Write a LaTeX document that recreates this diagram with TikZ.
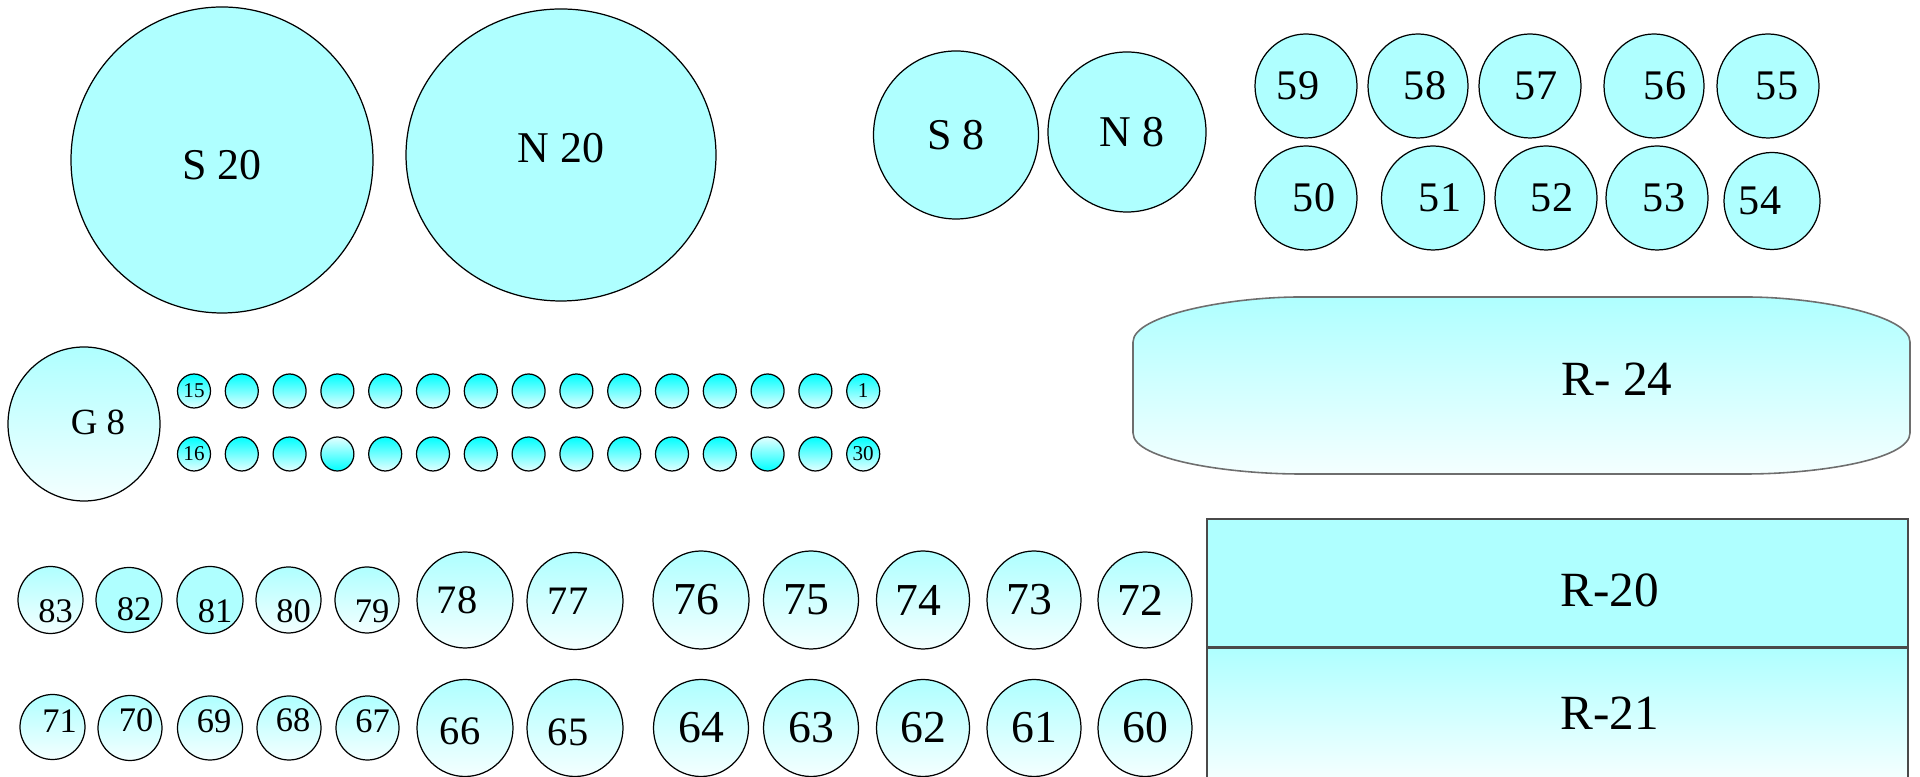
\documentclass[tikz,border=0pt]{standalone}
\usepackage{fontspec}
\setmainfont{Liberation Serif}
\usetikzlibrary{shapes.geometric}
\definecolor{RCyan}{HTML}{AFFFFF}
\definecolor{RAqua}{HTML}{00FFFF}
\definecolor{RFoam}{HTML}{F4FFFF}
\definecolor{RMist}{HTML}{E4FFFF}
\definecolor{REdge}{HTML}{6E6E6E}
\definecolor{RDark}{HTML}{4A4A4A}

\begin{document}
\begin{tikzpicture}[x=1cm,y=1cm,
  bub/.style={ellipse,draw=black,line width=.35pt,inner sep=0pt},
  flat/.style={bub,fill=RCyan},
  pale/.style={bub,top color=RCyan,bottom color=RFoam},
  bead/.style={bub,top color=RAqua,bottom color=RMist,minimum width=.33cm,minimum height=.34cm},
  beadup/.style={bead,top color=RMist,bottom color=RAqua},
  sz/.style 2 args={minimum width=#1cm,minimum height=#2cm},
  fbig/.style={font=\fontsize{12.5}{14}\selectfont},
  fmid/.style={font=\fontsize{12}{14}\selectfont},
  flrg/.style={font=\fontsize{13}{15}\selectfont},
  fmed/.style={font=\fontsize{11.5}{13}\selectfont},
  fsml/.style={font=\fontsize{9.8}{11}\selectfont},
  fbead/.style={font=\fontsize{6}{7}\selectfont},
  fR/.style={font=\fontsize{14}{16}\selectfont}]
\path[use as bounding box] (0,0) rectangle (19.20,7.77);
% top row
\node[flat,sz={3.02}{3.06},label={[fbig,yshift=-.05cm]center:S 20}] (s20) at (2.22,6.17) {};
\node[flat,sz={3.10}{2.92},label={[fbig,yshift=.07cm]center:N 20}] (n20) at (5.61,6.22) {};
\node[flat,sz={1.65}{1.68},label={[fbig]center:S 8}] (s8) at (9.56,6.42) {};
\node[flat,sz={1.58}{1.60},label={[fbig,xshift=.05cm]center:N 8}] (n8) at (11.27,6.45) {};
\node[flat,sz={1.02}{1.04},label={[fmid,xshift=-.08cm]center:59}] (c59) at (13.06,6.91) {};
\node[flat,sz={1.00}{1.04},label={[fmid,xshift=.07cm]center:58}] (c58) at (14.18,6.91) {};
\node[flat,sz={1.02}{1.04},label={[fmid,xshift=.06cm]center:57}] (c57) at (15.30,6.91) {};
\node[flat,sz={1.00}{1.04},label={[fmid,xshift=.11cm]center:56}] (c56) at (16.54,6.91) {};
\node[flat,sz={1.02}{1.04},label={[fmid,xshift=.09cm]center:55}] (c55) at (17.68,6.91) {};
\node[flat,sz={1.02}{1.04},label={[fmid,xshift=.08cm]center:50}] (c50) at (13.06,5.79) {};
\node[flat,sz={1.03}{1.04},label={[fmid,xshift=.07cm]center:51}] (c51) at (14.33,5.79) {};
\node[flat,sz={1.02}{1.04},label={[fmid,xshift=.06cm]center:52}] (c52) at (15.46,5.79) {};
\node[flat,sz={1.02}{1.04},label={[fmid,xshift=.07cm]center:53}] (c53) at (16.57,5.79) {};
\node[flat,sz={0.96}{0.97},label={[fmid,xshift=-.12cm]center:54}] (c54) at (17.72,5.76) {};
% middle band
\node[pale,sz={1.52}{1.54},label={[font=\fontsize{10.5}{12}\selectfont,xshift=.14cm,yshift=.02cm]center:G 8}] (g8) at (0.84,3.53) {};
\node[bead,fbead] (b15) at (1.94,3.86) {15};
\node[bead,fbead] (b1) at (8.632,3.86) {1};
\node[bead,fbead] (b16) at (1.94,3.23) {16};
\node[bead,fbead] (b30) at (8.632,3.23) {30};
\foreach \i in {1,...,13}
  \node[bead] (u\i) at (1.94+.478*\i,3.86) {};
\foreach \i in {1,2,4,5,6,7,8,9,10,11,13}
  \node[bead] (d\i) at (1.94+.478*\i,3.23) {};
\foreach \i in {3,12}
  \node[beadup] (d\i) at (1.94+.478*\i,3.23) {};
\path[draw=REdge,line width=.45pt,top color=RCyan,bottom color=RFoam]
  (11.33,3.44) -- (11.33,4.35) .. controls (11.33,4.62) and (12.30,4.80) .. (13.00,4.80)
  -- (17.46,4.80) .. controls (18.16,4.80) and (19.10,4.62) .. (19.10,4.35)
  -- (19.10,3.44) .. controls (19.10,3.17) and (18.16,3.03) .. (17.46,3.03)
  -- (13.00,3.03) .. controls (12.30,3.03) and (11.33,3.17) .. (11.33,3.44) -- cycle;
\node[fR] (r24) at (16.17,3.98) {R- 24};
% bottom rows
\node[pale,sz={.65}{.67},label={[fsml,xshift=.05cm,yshift=-.11cm]center:83}] (c83) at (0.505,1.77) {};
\node[flat,sz={.66}{.65},label={[fsml,xshift=.05cm,yshift=-.09cm]center:82}] (c82) at (1.29,1.77) {};
\node[flat,sz={.66}{.67},label={[fsml,xshift=.05cm,yshift=-.11cm]center:81}] (c81) at (2.10,1.77) {};
\node[pale,sz={.65}{.66},label={[fsml,xshift=.05cm,yshift=-.11cm]center:80}] (c80) at (2.885,1.77) {};
\node[pale,sz={.64}{.66},label={[fsml,xshift=.05cm,yshift=-.11cm]center:79}] (c79) at (3.67,1.77) {};
\node[pale,sz={.96}{.96},label={[fmed,xshift=-.08cm]center:78}] (c78) at (4.65,1.77) {};
\node[pale,sz={.96}{.97},label={[fmed,xshift=-.07cm]center:77}] (c77) at (5.75,1.76) {};
\node[pale,sz={.96}{.98},label={[flrg,xshift=-.05cm]center:76}] (c76) at (7.01,1.77) {};
\node[pale,sz={.95}{.98},label={[flrg,xshift=-.05cm]center:75}] (c75) at (8.11,1.77) {};
\node[pale,sz={.93}{.98},label={[flrg,xshift=-.05cm]center:74}] (c74) at (9.23,1.77) {};
\node[pale,sz={.94}{.98},label={[flrg,xshift=-.05cm]center:73}] (c73) at (10.34,1.77) {};
\node[pale,sz={.94}{.96},label={[flrg,xshift=-.05cm]center:72}] (c72) at (11.45,1.77) {};
\node[pale,sz={.65}{.65},label={[fsml,xshift=.07cm,yshift=.06cm]center:71}] (c71) at (0.525,0.50) {};
\node[pale,sz={.64}{.65},label={[fsml,xshift=.06cm,yshift=.08cm]center:70}] (c70) at (1.30,0.49) {};
\node[pale,sz={.65}{.64},label={[fsml,xshift=.04cm,yshift=.07cm]center:69}] (c69) at (2.10,0.49) {};
\node[pale,sz={.64}{.64},label={[fsml,xshift=.04cm,yshift=.08cm]center:68}] (c68) at (2.89,0.49) {};
\node[pale,sz={.63}{.64},label={[fsml,xshift=.05cm,yshift=.07cm]center:67}] (c67) at (3.675,0.49) {};
\node[pale,sz={.96}{.97},label={[fmed,xshift=-.05cm,yshift=-.03cm]center:66}] (c66) at (4.65,0.49) {};
\node[pale,sz={.96}{.97},label={[fmed,xshift=-.07cm,yshift=-.04cm]center:65}] (c65) at (5.75,0.49) {};
\node[pale,sz={.95}{.97},label={[flrg]center:64}] (c64) at (7.01,0.49) {};
\node[pale,sz={.95}{.97},label={[flrg]center:63}] (c63) at (8.11,0.49) {};
\node[pale,sz={.93}{.97},label={[flrg]center:62}] (c62) at (9.23,0.49) {};
\node[pale,sz={.94}{.97},label={[flrg]center:61}] (c61) at (10.34,0.49) {};
\node[pale,sz={.94}{.97},label={[flrg]center:60}] (c60) at (11.45,0.49) {};
\node[draw=RDark,fill=RCyan,inner sep=0pt,minimum width=7.01cm,minimum height=1.28cm,
  label={[fR,xshift=.52cm,yshift=-.07cm]center:R-20}] (r20) at (15.575,1.94) {};
\node[draw=RDark,top color=RCyan,bottom color=RFoam,inner sep=0pt,anchor=north,
  minimum width=7.01cm,minimum height=1.29cm,label={[fR,xshift=.52cm]center:R-21}] (r21) at (r20.south) {};
\end{tikzpicture}
\end{document}
